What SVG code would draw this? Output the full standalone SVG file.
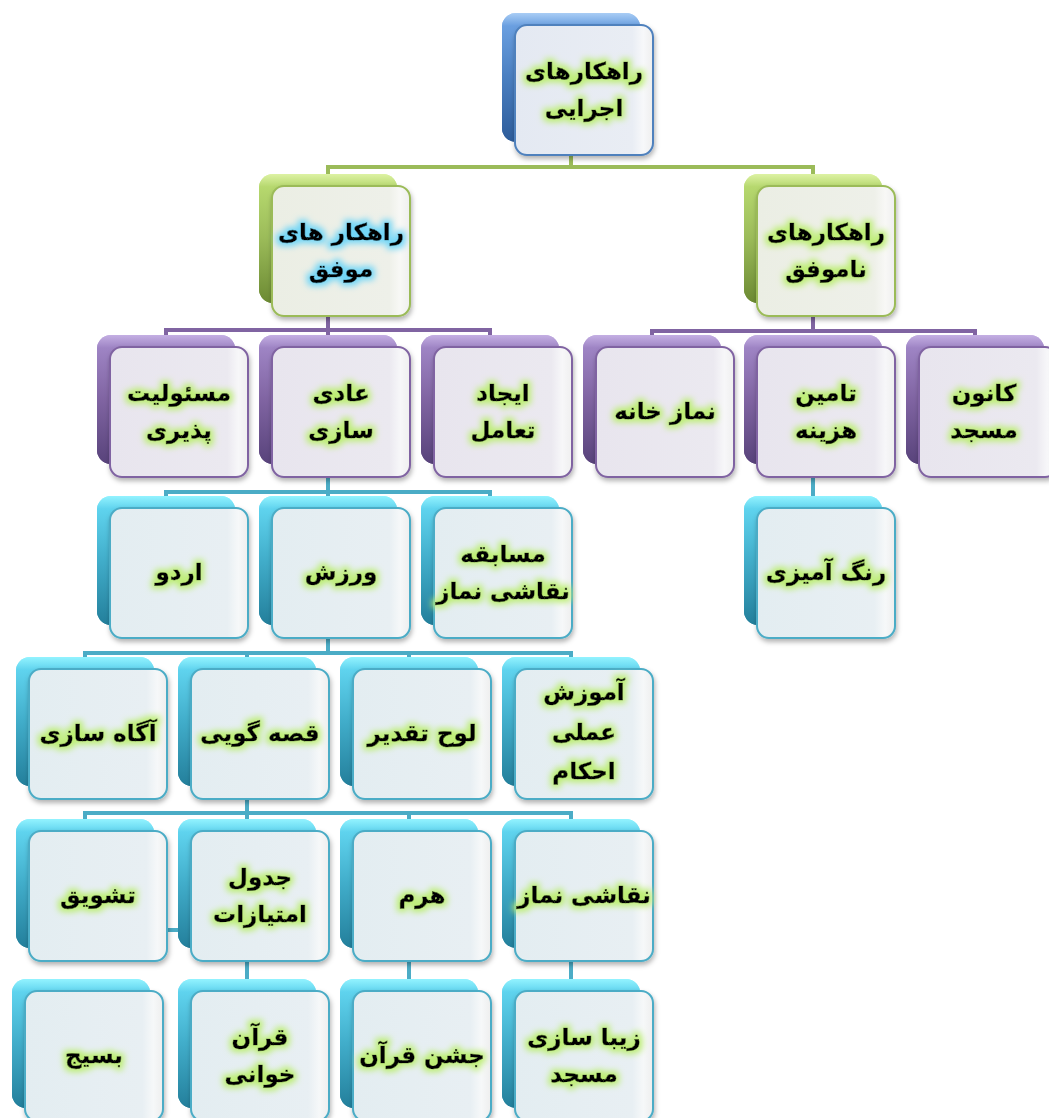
<svg xmlns="http://www.w3.org/2000/svg" width="1049" height="1118" viewBox="0 0 1049 1118">
<defs>
<linearGradient id="bBlue" x1="0" y1="0" x2="0" y2="1"><stop offset="0" stop-color="#a9cdf5"/><stop offset="0.1" stop-color="#6a9fe0"/><stop offset="0.5" stop-color="#4a7fc1"/><stop offset="1" stop-color="#2d5c9a"/></linearGradient>
<linearGradient id="bGreen" x1="0" y1="0" x2="0" y2="1"><stop offset="0" stop-color="#ddf2a4"/><stop offset="0.1" stop-color="#b6d86e"/><stop offset="0.5" stop-color="#9bbb59"/><stop offset="1" stop-color="#6c8a33"/></linearGradient>
<linearGradient id="bPurple" x1="0" y1="0" x2="0" y2="1"><stop offset="0" stop-color="#c4afe3"/><stop offset="0.1" stop-color="#9e84c4"/><stop offset="0.5" stop-color="#8064a2"/><stop offset="1" stop-color="#58437b"/></linearGradient>
<linearGradient id="bCyan" x1="0" y1="0" x2="0" y2="1"><stop offset="0" stop-color="#93f3ff"/><stop offset="0.1" stop-color="#5fd3ee"/><stop offset="0.5" stop-color="#41adca"/><stop offset="1" stop-color="#237f9b"/></linearGradient>
<linearGradient id="shade" x1="0" y1="0" x2="1" y2="0"><stop offset="0" stop-color="#000" stop-opacity="0.3"/><stop offset="0.12" stop-color="#000" stop-opacity="0"/></linearGradient>
<linearGradient id="fBlue" x1="0" y1="0" x2="1" y2="0"><stop offset="0" stop-color="#e4e9f2"/><stop offset="0.85" stop-color="#e9edf4"/><stop offset="0.93" stop-color="#f7f8fa"/><stop offset="1" stop-color="#eeeeee"/></linearGradient>
<linearGradient id="fGreen" x1="0" y1="0" x2="1" y2="0"><stop offset="0" stop-color="#ebeee4"/><stop offset="0.85" stop-color="#eef0e9"/><stop offset="0.93" stop-color="#f8f8f6"/><stop offset="1" stop-color="#efefef"/></linearGradient>
<linearGradient id="fPurple" x1="0" y1="0" x2="1" y2="0"><stop offset="0" stop-color="#e8e5ee"/><stop offset="0.85" stop-color="#ebe9f0"/><stop offset="0.93" stop-color="#f7f7f9"/><stop offset="1" stop-color="#efefef"/></linearGradient>
<linearGradient id="fCyan" x1="0" y1="0" x2="1" y2="0"><stop offset="0" stop-color="#e3edf1"/><stop offset="0.85" stop-color="#e8eff3"/><stop offset="0.93" stop-color="#f6f8f9"/><stop offset="1" stop-color="#eeeeee"/></linearGradient>
<filter id="sh" x="-10%" y="-10%" width="125%" height="125%"><feDropShadow dx="1" dy="3" stdDeviation="2.5" flood-color="#000" flood-opacity="0.3"/></filter>
<filter id="glowG" x="-25%" y="-60%" width="150%" height="220%"><feMorphology in="SourceAlpha" operator="dilate" radius="3" result="d"/><feGaussianBlur in="d" stdDeviation="3" result="b"/><feFlood flood-color="#bdee74"/><feComposite in2="b" operator="in" result="g"/><feMerge><feMergeNode in="g"/><feMergeNode in="SourceGraphic"/></feMerge></filter>
<filter id="glowB" x="-25%" y="-60%" width="150%" height="220%"><feMorphology in="SourceAlpha" operator="dilate" radius="3" result="d"/><feGaussianBlur in="d" stdDeviation="3" result="b"/><feFlood flood-color="#72d6f7"/><feComposite in2="b" operator="in" result="g"/><feMerge><feMergeNode in="g"/><feMergeNode in="SourceGraphic"/></feMerge></filter>
</defs>
<style>
.back{width:138px;height:129px}
.front{stroke-width:2;filter:url(#sh)}
.sh{fill:url(#shade)}
.blue .back{fill:url(#bBlue)} .blue .front{fill:url(#fBlue);stroke:#4f81bd}
.green .back{fill:url(#bGreen)} .green .front{fill:url(#fGreen);stroke:#9bbb59}
.purple .back{fill:url(#bPurple)} .purple .front{fill:url(#fPurple);stroke:#8064a2}
.cyan .back{fill:url(#bCyan)} .cyan .front{fill:url(#fCyan);stroke:#4bacc6}
text{font-family:"DejaVu Sans","Noto Sans",sans-serif;font-weight:bold;font-size:23px;fill:#000;stroke:#000;stroke-width:0.5px;text-anchor:middle;direction:rtl;filter:url(#glowG)}
.gb text{filter:url(#glowB)}
.c{fill:none;stroke-width:4}
.cg{stroke:#9bbb59} .cp{stroke:#8064a2} .cc{stroke:#4bacc6}
</style>

<g id="connectors">
<path class="c cg" d="M571 140V167M328 167H813M328 165V178M813 165V178"/>
<path class="c cp" d="M328 300V330M166 330H490M166 328V338M328 328V338M490 328V338"/>
<path class="c cp" d="M813 300V331M652 331H975M652 329V338M975 329V338"/>
<path class="c cc" d="M328 460V492M166 492H490M166 490V499M328 490V499M490 490V499"/>
<path class="c cc" d="M813 460V499"/>
<path class="c cc" d="M328 620V653M85 653H571M85 651V659M247 651V659M409 651V659M571 651V659"/>
<path class="c cc" d="M247 780V813M85 813H571M85 811V821M247 811V821M409 811V821M571 811V821"/>
<path class="c cc" d="M247 940V981M409 940V981M571 940V981M150 930H185"/>
</g>

<g id="n-root" class="blue">
<rect class="back" x="502" y="13" rx="14"/><rect class="sh back" x="502" y="13" rx="14"/>
<rect class="front" x="515" y="25" width="138" height="130" rx="12"/>
<text x="584" y="79">راهکارهای</text><text x="584" y="116">اجرایی</text>
</g>

<g id="n-movafagh" class="green gb">
<rect class="back" x="259" y="174" rx="14"/><rect class="sh back" x="259" y="174" rx="14"/>
<rect class="front" x="272" y="186" width="138" height="130" rx="12"/>
<text x="341" y="240">راهکار های</text><text x="341" y="277">موفق</text>
</g>
<g id="n-namovafagh" class="green">
<rect class="back" x="744" y="174" rx="14"/><rect class="sh back" x="744" y="174" rx="14"/>
<rect class="front" x="757" y="186" width="138" height="130" rx="12"/>
<text x="826" y="240">راهکارهای</text><text x="826" y="277">ناموفق</text>
</g>

<g id="n-masuliat" class="purple">
<rect class="back" x="97" y="335" rx="14"/><rect class="sh back" x="97" y="335" rx="14"/>
<rect class="front" x="110" y="347" width="138" height="130" rx="12"/>
<text x="179" y="401">مسئولیت</text><text x="179" y="438">پذیری</text>
</g>
<g id="n-adisazi" class="purple">
<rect class="back" x="259" y="335" rx="14"/><rect class="sh back" x="259" y="335" rx="14"/>
<rect class="front" x="272" y="347" width="138" height="130" rx="12"/>
<text x="341" y="401">عادی</text><text x="341" y="438">سازی</text>
</g>
<g id="n-taamol" class="purple">
<rect class="back" x="421" y="335" rx="14"/><rect class="sh back" x="421" y="335" rx="14"/>
<rect class="front" x="434" y="347" width="138" height="130" rx="12"/>
<text x="503" y="401">ایجاد</text><text x="503" y="438">تعامل</text>
</g>
<g id="n-namazkhane" class="purple">
<rect class="back" x="583" y="335" rx="14"/><rect class="sh back" x="583" y="335" rx="14"/>
<rect class="front" x="596" y="347" width="138" height="130" rx="12"/>
<text x="665" y="419">نماز خانه</text>
</g>
<g id="n-tamin" class="purple">
<rect class="back" x="744" y="335" rx="14"/><rect class="sh back" x="744" y="335" rx="14"/>
<rect class="front" x="757" y="347" width="138" height="130" rx="12"/>
<text x="826" y="401">تامین</text><text x="826" y="438">هزینه</text>
</g>
<g id="n-kanoon" class="purple">
<rect class="back" x="906" y="335" rx="14"/><rect class="sh back" x="906" y="335" rx="14"/>
<rect class="front" x="919" y="347" width="138" height="130" rx="12"/>
<text x="984" y="401">کانون</text><text x="984" y="438">مسجد</text>
</g>

<g id="n-ordu" class="cyan">
<rect class="back" x="97" y="496" rx="14"/><rect class="sh back" x="97" y="496" rx="14"/>
<rect class="front" x="110" y="508" width="138" height="130" rx="12"/>
<text x="179" y="580">اردو</text>
</g>
<g id="n-varzesh" class="cyan">
<rect class="back" x="259" y="496" rx="14"/><rect class="sh back" x="259" y="496" rx="14"/>
<rect class="front" x="272" y="508" width="138" height="130" rx="12"/>
<text x="341" y="580">ورزش</text>
</g>
<g id="n-mosabeghe" class="cyan">
<rect class="back" x="421" y="496" rx="14"/><rect class="sh back" x="421" y="496" rx="14"/>
<rect class="front" x="434" y="508" width="138" height="130" rx="12"/>
<text x="503" y="562">مسابقه</text><text x="503" y="599">نقاشی نماز</text>
</g>
<g id="n-rang" class="cyan">
<rect class="back" x="744" y="496" rx="14"/><rect class="sh back" x="744" y="496" rx="14"/>
<rect class="front" x="757" y="508" width="138" height="130" rx="12"/>
<text x="826" y="580">رنگ آمیزی</text>
</g>

<g id="n-agah" class="cyan">
<rect class="back" x="16" y="657" rx="14"/><rect class="sh back" x="16" y="657" rx="14"/>
<rect class="front" x="29" y="669" width="138" height="130" rx="12"/>
<text x="98" y="741">آگاه سازی</text>
</g>
<g id="n-ghesse" class="cyan">
<rect class="back" x="178" y="657" rx="14"/><rect class="sh back" x="178" y="657" rx="14"/>
<rect class="front" x="191" y="669" width="138" height="130" rx="12"/>
<text x="260" y="741">قصه گویی</text>
</g>
<g id="n-louh" class="cyan">
<rect class="back" x="340" y="657" rx="14"/><rect class="sh back" x="340" y="657" rx="14"/>
<rect class="front" x="353" y="669" width="138" height="130" rx="12"/>
<text x="422" y="741">لوح تقدیر</text>
</g>
<g id="n-amuzesh" class="cyan">
<rect class="back" x="502" y="657" rx="14"/><rect class="sh back" x="502" y="657" rx="14"/>
<rect class="front" x="515" y="669" width="138" height="130" rx="12"/>
<text x="584" y="700">آموزش</text><text x="584" y="740">عملی</text><text x="584" y="779">احکام</text>
</g>

<g id="n-tashvigh" class="cyan">
<rect class="back" x="16" y="819" rx="14"/><rect class="sh back" x="16" y="819" rx="14"/>
<rect class="front" x="29" y="831" width="138" height="130" rx="12"/>
<text x="98" y="903">تشویق</text>
</g>
<g id="n-jadval" class="cyan">
<rect class="back" x="178" y="819" rx="14"/><rect class="sh back" x="178" y="819" rx="14"/>
<rect class="front" x="191" y="831" width="138" height="130" rx="12"/>
<text x="260" y="885">جدول</text><text x="260" y="922">امتیازات</text>
</g>
<g id="n-heram" class="cyan">
<rect class="back" x="340" y="819" rx="14"/><rect class="sh back" x="340" y="819" rx="14"/>
<rect class="front" x="353" y="831" width="138" height="130" rx="12"/>
<text x="422" y="903">هرم</text>
</g>
<g id="n-naghashi" class="cyan">
<rect class="back" x="502" y="819" rx="14"/><rect class="sh back" x="502" y="819" rx="14"/>
<rect class="front" x="515" y="831" width="138" height="130" rx="12"/>
<text x="584" y="903">نقاشی نماز</text>
</g>

<g id="n-basij" class="cyan">
<rect class="back" x="12" y="979" rx="14"/><rect class="sh back" x="12" y="979" rx="14"/>
<rect class="front" x="25" y="991" width="138" height="130" rx="12"/>
<text x="94" y="1063">بسیج</text>
</g>
<g id="n-quran" class="cyan">
<rect class="back" x="178" y="979" rx="14"/><rect class="sh back" x="178" y="979" rx="14"/>
<rect class="front" x="191" y="991" width="138" height="130" rx="12"/>
<text x="260" y="1045">قرآن</text><text x="260" y="1082">خوانی</text>
</g>
<g id="n-jashn" class="cyan">
<rect class="back" x="340" y="979" rx="14"/><rect class="sh back" x="340" y="979" rx="14"/>
<rect class="front" x="353" y="991" width="138" height="130" rx="12"/>
<text x="422" y="1063">جشن قرآن</text>
</g>
<g id="n-ziba" class="cyan">
<rect class="back" x="502" y="979" rx="14"/><rect class="sh back" x="502" y="979" rx="14"/>
<rect class="front" x="515" y="991" width="138" height="130" rx="12"/>
<text x="584" y="1045">زیبا سازی</text><text x="584" y="1082">مسجد</text>
</g>
</svg>
